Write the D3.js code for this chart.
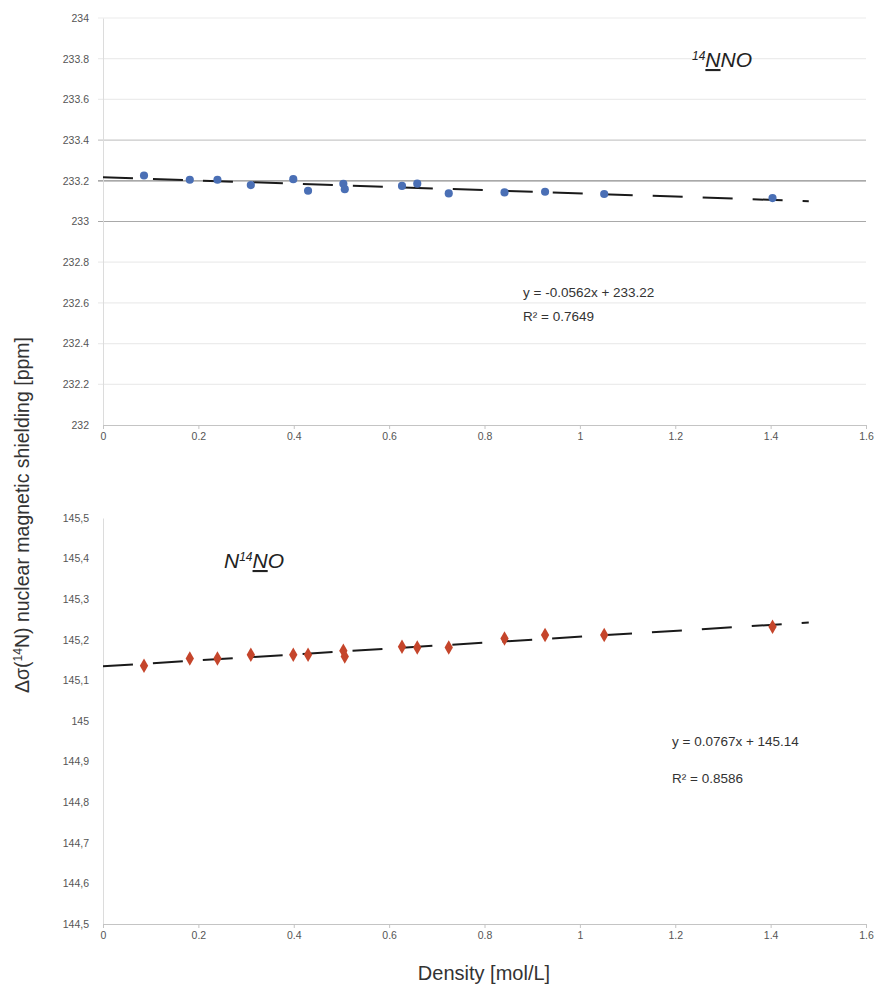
<!DOCTYPE html>
<html>
<head>
<meta charset="utf-8">
<script src="https://cdn.jsdelivr.net/npm/d3@7"></script>
<style>
  body { margin: 0; background: #fff; }
  svg { display: block; font-family: "Liberation Sans", Arial, sans-serif; }
</style>
</head>
<body>
<svg id="chart" width="876" height="990"></svg>
<script>
// density [mol/L], same samples for both nuclei
const density = [0.086, 0.182, 0.240, 0.310, 0.399, 0.430, 0.504, 0.507, 0.627, 0.659, 0.725, 0.842, 0.927, 1.051, 1.404];
// 14N N O (terminal N) shielding
const shieldTerminal = [233.226, 233.205, 233.205, 233.179, 233.208, 233.151, 233.185, 233.159, 233.175, 233.186, 233.138, 233.143, 233.146, 233.135, 233.115];
// N 14N O (central N) shielding
const shieldCentral = [145.136, 145.154, 145.154, 145.163, 145.163, 145.163, 145.173, 145.159, 145.183, 145.181, 145.181, 145.203, 145.212, 145.212, 145.232];

const xTicks = [0, 0.2, 0.4, 0.6, 0.8, 1, 1.2, 1.4, 1.6];
const xTickLabels = ['0', '0.2', '0.4', '0.6', '0.8', '1', '1.2', '1.4', '1.6'];
const topYTicks = [232, 232.2, 232.4, 232.6, 232.8, 233, 233.2, 233.4, 233.6, 233.8, 234];
const topYLabels = ['232', '232.2', '232.4', '232.6', '232.8', '233', '233.2', '233.4', '233.6', '233.8', '234'];
const botYTicks = [144.5, 144.6, 144.7, 144.8, 144.9, 145, 145.1, 145.2, 145.3, 145.4, 145.5];
const botYLabels = ['144,5', '144,6', '144,7', '144,8', '144,9', '145', '145,1', '145,2', '145,3', '145,4', '145,5'];
const topEquation = ['y = -0.0562x + 233.22', 'R² = 0.7649'];
const botEquation = ['y = 0.0767x + 145.14', 'R² = 0.8586'];
const trendEnd = 1.48;

const svg = d3.select('#chart');

// gridline greys (the scan shows some lines stronger than others)
const gridShade = {233.4: '#c9c9c9', 233.2: '#8c8c8c', 233: '#a9a9a9'};

const fit = (xs, ys) => {
  const mx = d3.mean(xs), my = d3.mean(ys);
  const b = d3.sum(xs, (x, i) => (x - mx) * (ys[i] - my)) / d3.sum(xs, x => (x - mx) ** 2);
  return x => my + b * (x - mx);
};

const drawPanel = (cfg) => {
  const x = d3.scaleLinear().domain([0, 1.6]).range([103, 866]);
  const y = d3.scaleLinear().domain(cfg.yDomain).range(cfg.yRange);
  const g = svg.append('g');

  if (cfg.grid) {
    g.selectAll('.grid').data(cfg.yTicks.slice(1)).join('line')
      .attr('x1', 98).attr('x2', 866)
      .attr('y1', d => y(d)).attr('y2', d => y(d))
      .attr('stroke', d => gridShade[d] || '#ececec')
      .attr('stroke-width', 1.2);
  }

  // y axis
  const yAxis = d3.axisLeft(y).tickValues(cfg.yTicks)
    .tickFormat((d, i) => cfg.yLabels[i]).tickSize(0).tickPadding(14);
  const ya = g.append('g').attr('transform', 'translate(103,0)').call(yAxis);
  ya.select('.domain').attr('stroke', '#dcdcdc');
  ya.selectAll('text').attr('fill', '#555').style('font-size', '10.5px');

  // x axis
  const xAxis = d3.axisBottom(x).tickValues(xTicks)
    .tickFormat((d, i) => xTickLabels[i]).tickSize(4).tickSizeOuter(0).tickPadding(4);
  const xa = g.append('g').attr('transform', `translate(0,${cfg.yRange[0]})`).call(xAxis);
  xa.select('.domain').attr('stroke', '#c4c4c4').attr('stroke-width', 1.2);
  xa.selectAll('.tick line').attr('stroke', '#c4c4c4');
  xa.selectAll('text').attr('fill', '#555').style('font-size', '10.5px');

  // trendline
  const f = fit(density, cfg.values);
  g.append('line')
    .attr('x1', x(0)).attr('y1', y(f(0)))
    .attr('x2', x(trendEnd)).attr('y2', y(f(trendEnd)))
    .attr('stroke', '#1a1a1a').attr('stroke-width', 2)
    .attr('stroke-dasharray', '30,20');

  // points
  const sym = d3.symbol().type(cfg.symbol).size(cfg.symbolSize);
  g.selectAll('.pt').data(density).join('path')
    .attr('d', sym)
    .attr('transform', (d, i) => `translate(${x(d)},${y(cfg.values[i])})`)
    .attr('fill', cfg.color);

  // equation
  g.selectAll('.eq').data(cfg.equation).join('text')
    .attr('x', cfg.eqPos[0]).attr('y', (d, i) => cfg.eqPos[1] + i * cfg.eqGap)
    .attr('fill', '#333').style('font-size', '13.5px')
    .text(d => d);

  return g;
};

const topPanel = drawPanel({
  yDomain: [232, 234], yRange: [425, 18], yTicks: topYTicks, yLabels: topYLabels,
  values: shieldTerminal, color: '#4a6fb5', symbol: d3.symbolCircle, symbolSize: 52,
  grid: true, equation: topEquation, eqPos: [523, 297], eqGap: 24
});
const bottomPanel = drawPanel({
  yDomain: [144.5, 145.5], yRange: [924, 518], yTicks: botYTicks, yLabels: botYLabels,
  values: shieldCentral, color: '#c5452b', symbol: d3.symbolDiamond, symbolSize: 60,
  grid: false, equation: botEquation, eqPos: [672, 746], eqGap: 37
});

// species labels
const t1 = topPanel.append('text').attr('x', 692).attr('y', 67)
  .style('font-size', '21px').style('font-style', 'italic').attr('fill', '#222');
t1.append('tspan').attr('baseline-shift', 'super').style('font-size', '12px').text('14');
t1.append('tspan').style('text-decoration', 'underline').text('N');
t1.append('tspan').text('NO');

const t2 = bottomPanel.append('text').attr('x', 224).attr('y', 568)
  .style('font-size', '21px').style('font-style', 'italic').attr('fill', '#222');
t2.append('tspan').text('N');
t2.append('tspan').attr('baseline-shift', 'super').style('font-size', '12px').text('14');
t2.append('tspan').style('text-decoration', 'underline').text('N');
t2.append('tspan').text('O');

// axis titles
const yt = svg.append('text')
  .attr('transform', 'translate(29,515) rotate(-90)')
  .attr('text-anchor', 'middle').attr('fill', '#333').style('font-size', '19.5px');
yt.append('tspan').text('Δσ(');
yt.append('tspan').attr('baseline-shift', 'super').style('font-size', '12px').text('14');
yt.append('tspan').text('N) nuclear magnetic shielding [ppm]');

svg.append('text').attr('x', 484).attr('y', 980)
  .attr('text-anchor', 'middle').attr('fill', '#333').style('font-size', '20px')
  .text('Density [mol/L]');
</script>
</body>
</html>
